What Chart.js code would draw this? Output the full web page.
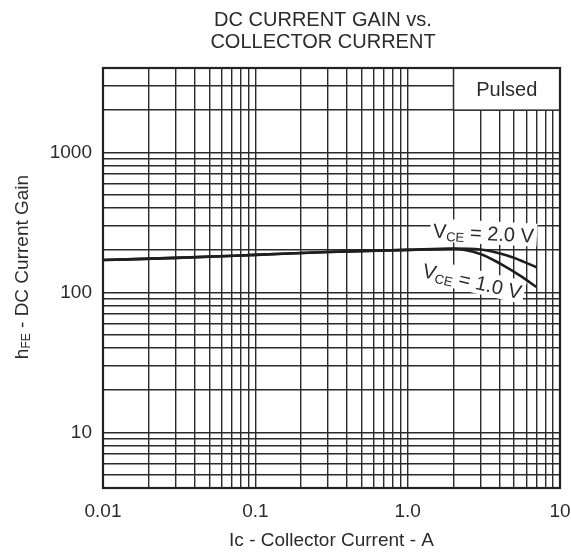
<!DOCTYPE html>
<html lang="en">
<head>
  <meta charset="UTF-8" />
  <title>DC Current Gain vs. Collector Current</title>
  <script src="https://cdn.jsdelivr.net/npm/chart.js"></script>
  <style>
    html, body { margin: 0; padding: 0; background: #fff; }
  </style>
</head>
<body>
  <canvas id="grafico" width="571" height="552"></canvas>
  <script>
    // curves
    const icVce2 = [0.01, 0.03, 0.1, 0.3, 1.0, 2.0, 3.0, 4.5, 5.8, 7.0];
    const hfeVce2 = [170, 176, 185, 194, 201, 205, 202, 183, 165, 151];
    const icVce1 = [0.01, 0.03, 0.1, 0.3, 1.0, 2.0, 3.0, 4.1, 5.5, 7.0];
    const hfeVce1 = [170, 176, 185, 194, 201, 204, 188, 159, 131, 109];
    const vceLabels = ["2.0", "1.0"];

    // log grid
    const xGrid = [0.01, 0.02, 0.03, 0.04, 0.05, 0.06, 0.07, 0.08, 0.09,
                   0.1, 0.2, 0.3, 0.4, 0.5, 0.6, 0.7, 0.8, 0.9,
                   1, 2, 3, 4, 5, 6, 7, 8, 9, 10];
    const xMajor = [0.01, 0.1, 1, 10];
    const xMajorLabels = ["0.01", "0.1", "1.0", "10"];
    const yGrid = [4, 5, 6, 7, 8, 9, 10, 20, 30, 40, 50, 60, 70, 80, 90,
                   100, 200, 300, 400, 500, 600, 700, 800, 900,
                   1000, 2000, 3000, 4000];
    const yMajor = [10, 100, 1000];
    const yMajorLabels = ["10", "100", "1000"];

    const FONT = '"Liberation Sans", Arial, sans-serif';
    const INK = "#2b2b2b";

    function pontos(xs, ys) {
      return xs.map((x, i) => ({ x: x, y: ys[i] }));
    }

    function textoComposto(ctx, partes) {
      // partes: [texto, tamanho, deslocamento da linha de base]
      let w = 0;
      partes.forEach(p => { ctx.font = p[1] + "px " + FONT; w += ctx.measureText(p[0]).width; });
      return w;
    }

    function desenhaComposto(ctx, partes, x0, y0) {
      let x = x0;
      partes.forEach(p => {
        ctx.font = p[1] + "px " + FONT;
        ctx.fillText(p[0], x, y0 + p[2]);
        x += ctx.measureText(p[0]).width;
      });
    }

    function rotuloVce(ctx, x, y, ang, valor) {
      const partes = [["V", 20, 0], ["CE", 13, 3], [" = " + valor + " V", 20, 0]];
      ctx.save();
      ctx.translate(x, y);
      ctx.rotate(ang * Math.PI / 180);
      const w = textoComposto(ctx, partes);
      ctx.fillStyle = "#fff";
      ctx.fillRect(-w / 2 - 3, -12, w + 6, 23);
      ctx.fillStyle = INK;
      ctx.textBaseline = "alphabetic";
      ctx.textAlign = "left";
      desenhaComposto(ctx, partes, -w / 2, 7);
      ctx.restore();
    }

    const extras = {
      id: "extras",
      beforeDatasetsDraw(chart) {
        const ctx = chart.ctx;
        const xs = chart.scales.x, ys = chart.scales.y;
        const a = chart.chartArea;

        // "Pulsed" box
        const bx = xs.getPixelForValue(2), by = ys.getPixelForValue(2000);
        ctx.save();
        ctx.fillStyle = "#fff";
        ctx.fillRect(bx, a.top, a.right - bx, by - a.top);
        ctx.strokeStyle = INK;
        ctx.lineWidth = 1.5;
        ctx.strokeRect(bx, a.top, a.right - bx, by - a.top);
        ctx.fillStyle = INK;
        ctx.font = "20px " + FONT;
        ctx.textAlign = "center";
        ctx.textBaseline = "middle";
        ctx.fillText("Pulsed", (bx + a.right) / 2, (a.top + by) / 2 + 1);
        ctx.restore();

        rotuloVce(ctx, xs.getPixelForValue(3.15), ys.getPixelForValue(265), 3, vceLabels[0]);
        rotuloVce(ctx, xs.getPixelForValue(2.65), ys.getPixelForValue(120), 13, vceLabels[1]);

        // frame
        ctx.save();
        ctx.strokeStyle = "#222";
        ctx.lineWidth = 2.2;
        ctx.strokeRect(a.left, a.top, a.right - a.left, a.bottom - a.top);
        ctx.restore();
      },
      afterDraw(chart) {
        const ctx = chart.ctx;
        const a = chart.chartArea;
        ctx.save();
        ctx.fillStyle = INK;
        ctx.textAlign = "center";
        ctx.textBaseline = "middle";
        ctx.font = "20px " + FONT;
        ctx.fillText("DC CURRENT GAIN vs.", 323, 20);
        ctx.fillText("COLLECTOR CURRENT", 323, 42);

        ctx.font = "19px " + FONT;
        ctx.fillText("Ic - Collector Current - A", (a.left + a.right) / 2, 541);

        // y title with subscript
        const partes = [["h", 19, 0], ["FE", 12, 2], [" - DC Current Gain", 19, 0]];
        ctx.translate(21, 267);
        ctx.rotate(-Math.PI / 2);
        const w = textoComposto(ctx, partes);
        ctx.textAlign = "left";
        ctx.textBaseline = "alphabetic";
        desenhaComposto(ctx, partes, -w / 2, 7);
        ctx.restore();
      }
    };

    const linha = {
      borderColor: "#1e1e1e",
      borderWidth: 2.6,
      pointRadius: 0,
      fill: false,
      cubicInterpolationMode: "monotone"
    };

    new Chart(document.getElementById("grafico"), {
      type: "line",
      data: {
        datasets: [
          Object.assign({ label: "VCE = 2.0 V", data: pontos(icVce2, hfeVce2) }, linha),
          Object.assign({ label: "VCE = 1.0 V", data: pontos(icVce1, hfeVce1) }, linha)
        ]
      },
      options: {
        responsive: false,
        animation: false,
        devicePixelRatio: 1,
        layout: { padding: { top: 68, right: 11, left: 0, bottom: 0 } },
        plugins: {
          legend: { display: false },
          title: { display: false },
          tooltip: { enabled: false }
        },
        scales: {
          x: {
            type: "logarithmic",
            min: 0.01,
            max: 10,
            afterBuildTicks: s => { s.ticks = xGrid.map(v => ({ value: v })); },
            afterFit: s => { s.height = 64; s.paddingLeft = 0; s.paddingRight = 0; },
            grid: { color: "#2a2a2a", lineWidth: 1.4, drawTicks: false },
            border: { display: false },
            ticks: {
              autoSkip: false,
              maxRotation: 0,
              padding: 12,
              color: INK,
              font: { family: FONT, size: 19 },
              callback: v => { const i = xMajor.indexOf(v); return i >= 0 ? xMajorLabels[i] : ""; }
            }
          },
          y: {
            type: "logarithmic",
            min: 4,
            max: 4000,
            afterBuildTicks: s => { s.ticks = yGrid.map(v => ({ value: v })); },
            afterFit: s => { s.width = 103; s.paddingTop = 0; s.paddingBottom = 0; },
            grid: { color: "#2a2a2a", lineWidth: 1.4, drawTicks: false },
            border: { display: false },
            ticks: {
              autoSkip: false,
              padding: 11,
              color: INK,
              font: { family: FONT, size: 19 },
              callback: v => { const i = yMajor.indexOf(v); return i >= 0 ? yMajorLabels[i] : ""; }
            }
          }
        }
      },
      plugins: [extras]
    });
  </script>
</body>
</html>
